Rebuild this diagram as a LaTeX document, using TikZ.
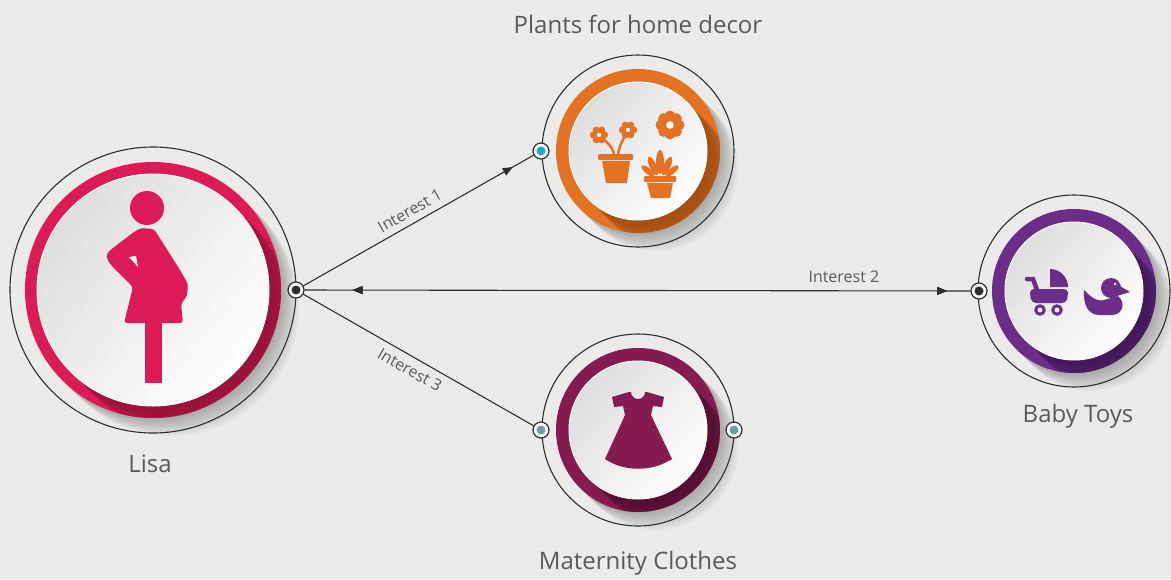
\documentclass[tikz,border=0pt]{standalone}
\usepackage{fontspec}
\setmainfont{Open Sans}
\usetikzlibrary{arrows.meta,decorations.markings}
\definecolor{bg}{HTML}{EBEBE9}
\definecolor{pinkc}{HTML}{DC1A55}
\definecolor{pinkd}{HTML}{8E1238}
\definecolor{orangec}{HTML}{E37222}
\definecolor{oranged}{HTML}{9A4A12}
\definecolor{purplec}{HTML}{6B2C8A}
\definecolor{purpled}{HTML}{3E1652}
\definecolor{maroonc}{HTML}{861B52}
\definecolor{maroond}{HTML}{4E0E2E}
\definecolor{cyanp}{HTML}{1AAACB}
\definecolor{tealp}{HTML}{6B9EA0}
\definecolor{darkp}{HTML}{2D2D2D}
\definecolor{txt}{HTML}{5A5A5A}
\newcommand\mybubble[7]{%
  \foreach \k in {1,...,12}{\fill[black,opacity=0.025] (#1+\k*1.5,#2+\k*1.5) circle[radius=#4];}
  \draw[orbit] (#1,#2) circle[radius=#3];
  \fill[#6] (#1,#2) circle[radius=#4];
  \begin{scope}
    \clip (#1,#2) circle[radius=#4];
    \foreach \k in {2,4,...,26}{\fill[#7,opacity=0.12] (#1+\k,#2+\k) circle[radius=#5];}
  \end{scope}
  \shade[top color=black!13,bottom color=white,shading angle=50] (#1,#2) circle[radius=#5];
  \draw[white,line width=1pt] (#1,#2) circle[radius=#5];
}
\tikzset{
  orbit/.style={draw=darkp,line width=1.1pt},
  port/.style={circle,draw=darkp,line width=1.2pt,fill=white,minimum size=16pt,inner sep=0pt,
    path picture={\fill[#1] (path picture bounding box.center) circle[radius=4.5pt];}},
  conn/.style={draw=darkp,line width=1.1pt},
  lbl/.style={text=txt,font=\fontsize{24}{28}\selectfont},
  small/.style={text=txt,font=\fontsize{16}{18}\selectfont},
  tip/.style={decoration={markings,mark=at position #1 with {\arrow{Triangle[length=10pt,width=8pt]}}},postaction={decorate}},
  rtip/.style={decoration={markings,mark=at position #1 with {\arrowreversed{Triangle[length=10pt,width=8pt]}}},postaction={decorate}}
}
\begin{document}
\begin{tikzpicture}[x=1pt,y=-1pt]
\fill[bg] (0,0) rectangle (1171,579);
\useasboundingbox (0,0) rectangle (1171,579);

% bubbles
\mybubble{153}{290}{143}{128}{116}{pinkc}{pinkd}
\mybubble{638}{151}{96}{82}{69}{orangec}{oranged}
\mybubble{1074}{291}{96}{82}{69}{purplec}{purpled}
\mybubble{638}{430}{96}{82}{69}{maroonc}{maroond}

% pregnant woman icon
\fill[pinkc] (147,208) circle[radius=17];
\fill[pinkc,rounded corners=3pt] (141,228) -- (154,229) -- (180,270) -- (188,284) -- (187,296) -- (181,304) -- (183,323) -- (124,323) -- (133,287) -- (110,264) -- (106,256) -- (109,251) -- (134,232) -- cycle;
\fill[white] (129,257) -- (136,256) -- (138,267) -- cycle;
\fill[pinkc] (145,323) rectangle (162,383);

% plants icon
\fill[orangec,rounded corners=1pt] (598,154) rectangle (633,160);
\fill[orangec] (602,161) -- (630,161) -- (627,183) -- (606,183) -- cycle;
\fill[orangec,rounded corners=1pt] (644,176) rectangle (676,182);
\fill[orangec] (647,183) -- (673,183) -- (670,198) -- (651,198) -- cycle;
\draw[orangec,line width=2.5pt] (614,154) .. controls (612,146) and (606,141) .. (601,137);
\draw[orangec,line width=2.5pt] (618,154) .. controls (620,144) and (624,137) .. (627,133);
\foreach \a in {0,60,...,300}{
  \fill[orangec] (599,135) ++(\a:5.5) circle[radius=3.6];
  \fill[orangec] (628,130) ++(\a:5.5) circle[radius=3.6];}
\fill[white] (599,135) circle[radius=1.8];
\fill[white] (628,130) circle[radius=1.8];
\foreach \a in {0,45,...,315}{\fill[orangec] (670,125) ++(\a:9) circle[radius=5.5];}
\fill[orangec] (670,125) circle[radius=8];
\fill[white] (670,125) circle[radius=3.8];
\fill[orangec] (660,162) ellipse[x radius=4,y radius=12];
\fill[orangec,rotate around={25:(653,166)}] (653,166) ellipse[x radius=3.5,y radius=10];
\fill[orangec,rotate around={-25:(667,166)}] (667,166) ellipse[x radius=3.5,y radius=10];
\fill[orangec,rotate around={50:(648,171)}] (648,171) ellipse[x radius=3,y radius=8];
\fill[orangec,rotate around={-50:(672,171)}] (672,171) ellipse[x radius=3,y radius=8];

% stroller
\fill[purplec] (1050,287) -- (1050,269) arc[start angle=-90,end angle=0,radius=18] -- cycle;
\fill[purplec,rounded corners=4pt] (1030,289) -- (1068,289) -- (1068,296) -- (1066,303) -- (1032,303) -- (1030,296) -- cycle;
\draw[purplec,line width=4.5pt,line cap=round] (1027,279) -- (1033,279) -- (1037,290);
\draw[purplec,line width=3pt,fill=white] (1040,310) circle[radius=4.2];
\draw[purplec,line width=3pt,fill=white] (1057,310) circle[radius=4.2];

% duck
\fill[purplec] (1084,290) .. controls (1083,305) and (1088,315) .. (1100,315) -- (1112,315) .. controls (1123,315) and (1126,302) .. (1118,296) -- (1104,300) .. controls (1096,302) and (1090,296) .. cycle;
\fill[purplec] (1111,288) circle[radius=10];
\fill[purplec] (1118,285) -- (1130,292) -- (1117,296) -- cycle;
\fill[white] (1115,284) circle[radius=1.3];

% dress
\fill[maroonc] (612,397) -- (629,392) -- (631,392) arc[start angle=180,end angle=0,radius=7] -- (647,392) -- (664,397) -- (662,407) -- (653,406) -- (651,415) -- (672,459) .. controls (652,472) and (624,472) .. (605,459) -- (625,415) -- (623,406) -- (614,407) -- cycle;

% ports
\node[port=darkp] (lp) at (296,290) {};
\node[port=cyanp] (pp) at (541,151) {};
\node[port=darkp] (bp) at (979,291) {};
\node[port=tealp] (mlp) at (541,430) {};
\node[port=tealp] (mrp) at (734,430) {};

% connectors
\draw[conn,tip=0.91] (lp) -- node[small,sloped,above=3pt,pos=0.49] {Interest 1} (pp);
\draw[conn,tip=0.965,rtip=0.072] (lp) -- node[small,above=4pt,pos=0.81] {Interest 2} (bp);
\draw[conn] (lp) -- node[small,sloped,below=3pt,pos=0.49] {Interest 3} (mlp);

% labels
\node[lbl] (lisa) at (150,464) {Lisa};
\node[lbl] (plants) at (638,24) {Plants for home decor};
\node[lbl] (baby) at (1078,416) {Baby Toys};
\node[lbl] (mat) at (638,563) {Maternity Clothes};
\end{tikzpicture}
\end{document}
